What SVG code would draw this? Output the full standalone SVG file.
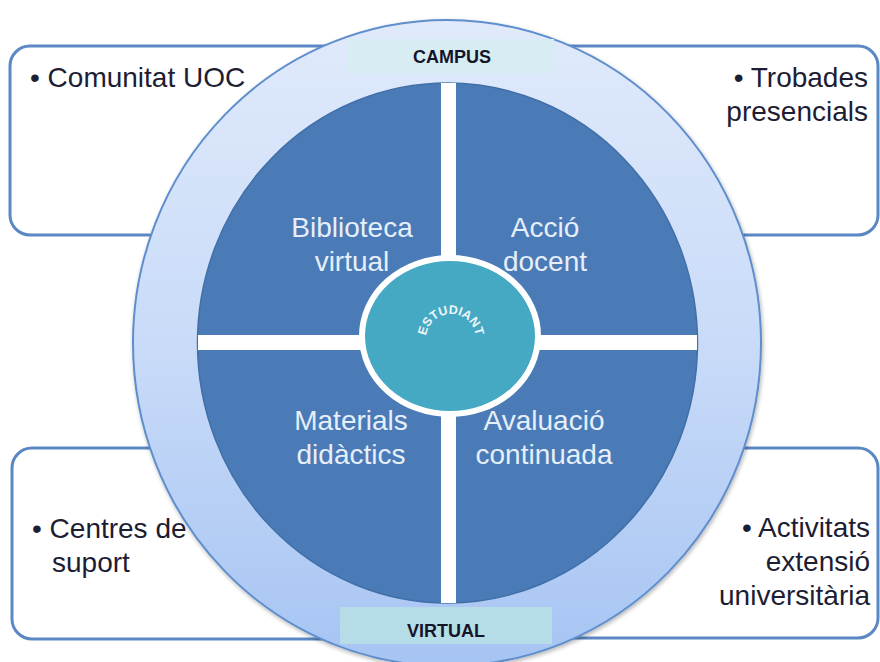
<svg xmlns="http://www.w3.org/2000/svg" width="880" height="662" viewBox="0 0 880 662">
<defs>
<linearGradient id="ringGrad" x1="0" y1="0" x2="0" y2="1">
<stop offset="0" stop-color="#e0eafb"/>
<stop offset="0.5" stop-color="#c9dbf8"/>
<stop offset="1" stop-color="#a6c4f3"/>
</linearGradient>
<filter id="shadow" x="-10%" y="-10%" width="120%" height="120%">
<feGaussianBlur in="SourceAlpha" stdDeviation="2"/>
<feOffset dx="1" dy="2"/>
<feComponentTransfer><feFuncA type="linear" slope="0.3"/></feComponentTransfer>
<feMerge><feMergeNode/><feMergeNode in="SourceGraphic"/></feMerge>
</filter>
<path id="arcStud" d="M 426 339 A 25 25 0 0 1 476 339"/>
</defs>
<style>
.box{fill:#ffffff;stroke:#5b87c4;stroke-width:3}
.side{font-family:"Liberation Sans",Arial,sans-serif;font-size:28px;fill:#1d1d33}
.quad{font-family:"Liberation Sans",Arial,sans-serif;font-size:28px;fill:#e6eef9;text-anchor:middle}
.lbl{font-family:"Liberation Sans",Arial,sans-serif;font-size:18px;font-weight:bold;fill:#15152a;text-anchor:middle}
.bar{fill:#ffffff}
</style>
<rect width="880" height="662" fill="#ffffff"/>

<g id="box-comunitat">
<rect class="box" x="10" y="46" width="440" height="189" rx="20"/>
<text class="side" x="30" y="87">• Comunitat UOC</text>
</g>
<g id="box-trobades">
<rect class="box" x="440" y="46" width="438" height="189" rx="20"/>
<text class="side" text-anchor="end" x="868" y="87">• Trobades</text>
<text class="side" text-anchor="end" x="868" y="121">presencials</text>
</g>
<g id="box-centres">
<rect class="box" x="12" y="448" width="440" height="191" rx="20"/>
<text class="side" x="32" y="538">• Centres de</text>
<text class="side" x="52" y="572">suport</text>
</g>
<g id="box-activitats">
<rect class="box" x="440" y="448" width="438" height="190" rx="20"/>
<text class="side" text-anchor="end" x="870" y="537">• Activitats</text>
<text class="side" text-anchor="end" x="870" y="571">extensió</text>
<text class="side" text-anchor="end" x="870" y="605">universitària</text>
</g>

<g id="outer-ring">
<ellipse cx="447" cy="343" rx="314" ry="323" fill="url(#ringGrad)" stroke="#5f8ecd" stroke-width="2" filter="url(#shadow)"/>
</g>

<g id="inner-disk">
<ellipse cx="447.5" cy="343" rx="250" ry="260" fill="#4a7bb7" stroke="#416fa8" stroke-width="1.5"/>
</g>

<g id="dividers">
<rect class="bar" x="441" y="83" width="15" height="520"/>
<rect class="bar" x="198" y="335" width="499" height="15"/>
</g>

<g id="quad-biblioteca">
<text class="quad" x="352" y="237">Biblioteca</text>
<text class="quad" x="352" y="271">virtual</text>
</g>
<g id="quad-accio">
<text class="quad" x="545" y="237">Acció</text>
<text class="quad" x="545" y="271">docent</text>
</g>
<g id="quad-materials">
<text class="quad" x="351" y="430">Materials</text>
<text class="quad" x="351" y="464">didàctics</text>
</g>
<g id="quad-avaluacio">
<text class="quad" x="544" y="430">Avaluació</text>
<text class="quad" x="544" y="464">continuada</text>
</g>

<g id="estudiant">
<ellipse cx="450" cy="336" rx="88" ry="78" fill="#45a9c3" stroke="#ffffff" stroke-width="6"/>
<text font-family="'Liberation Sans',Arial,sans-serif" font-size="12.5" font-weight="bold" fill="#eef6fa" text-anchor="middle"><textPath href="#arcStud" startOffset="50%">ESTUDIANT</textPath></text>
</g>

<g id="label-campus">
<rect x="347" y="39" width="207" height="34" fill="#d8edf3"/>
<text class="lbl" x="452" y="63">CAMPUS</text>
</g>
<g id="label-virtual">
<rect x="340" y="607" width="212" height="37" fill="#b6dde7"/>
<text class="lbl" x="446" y="637">VIRTUAL</text>
</g>
</svg>
